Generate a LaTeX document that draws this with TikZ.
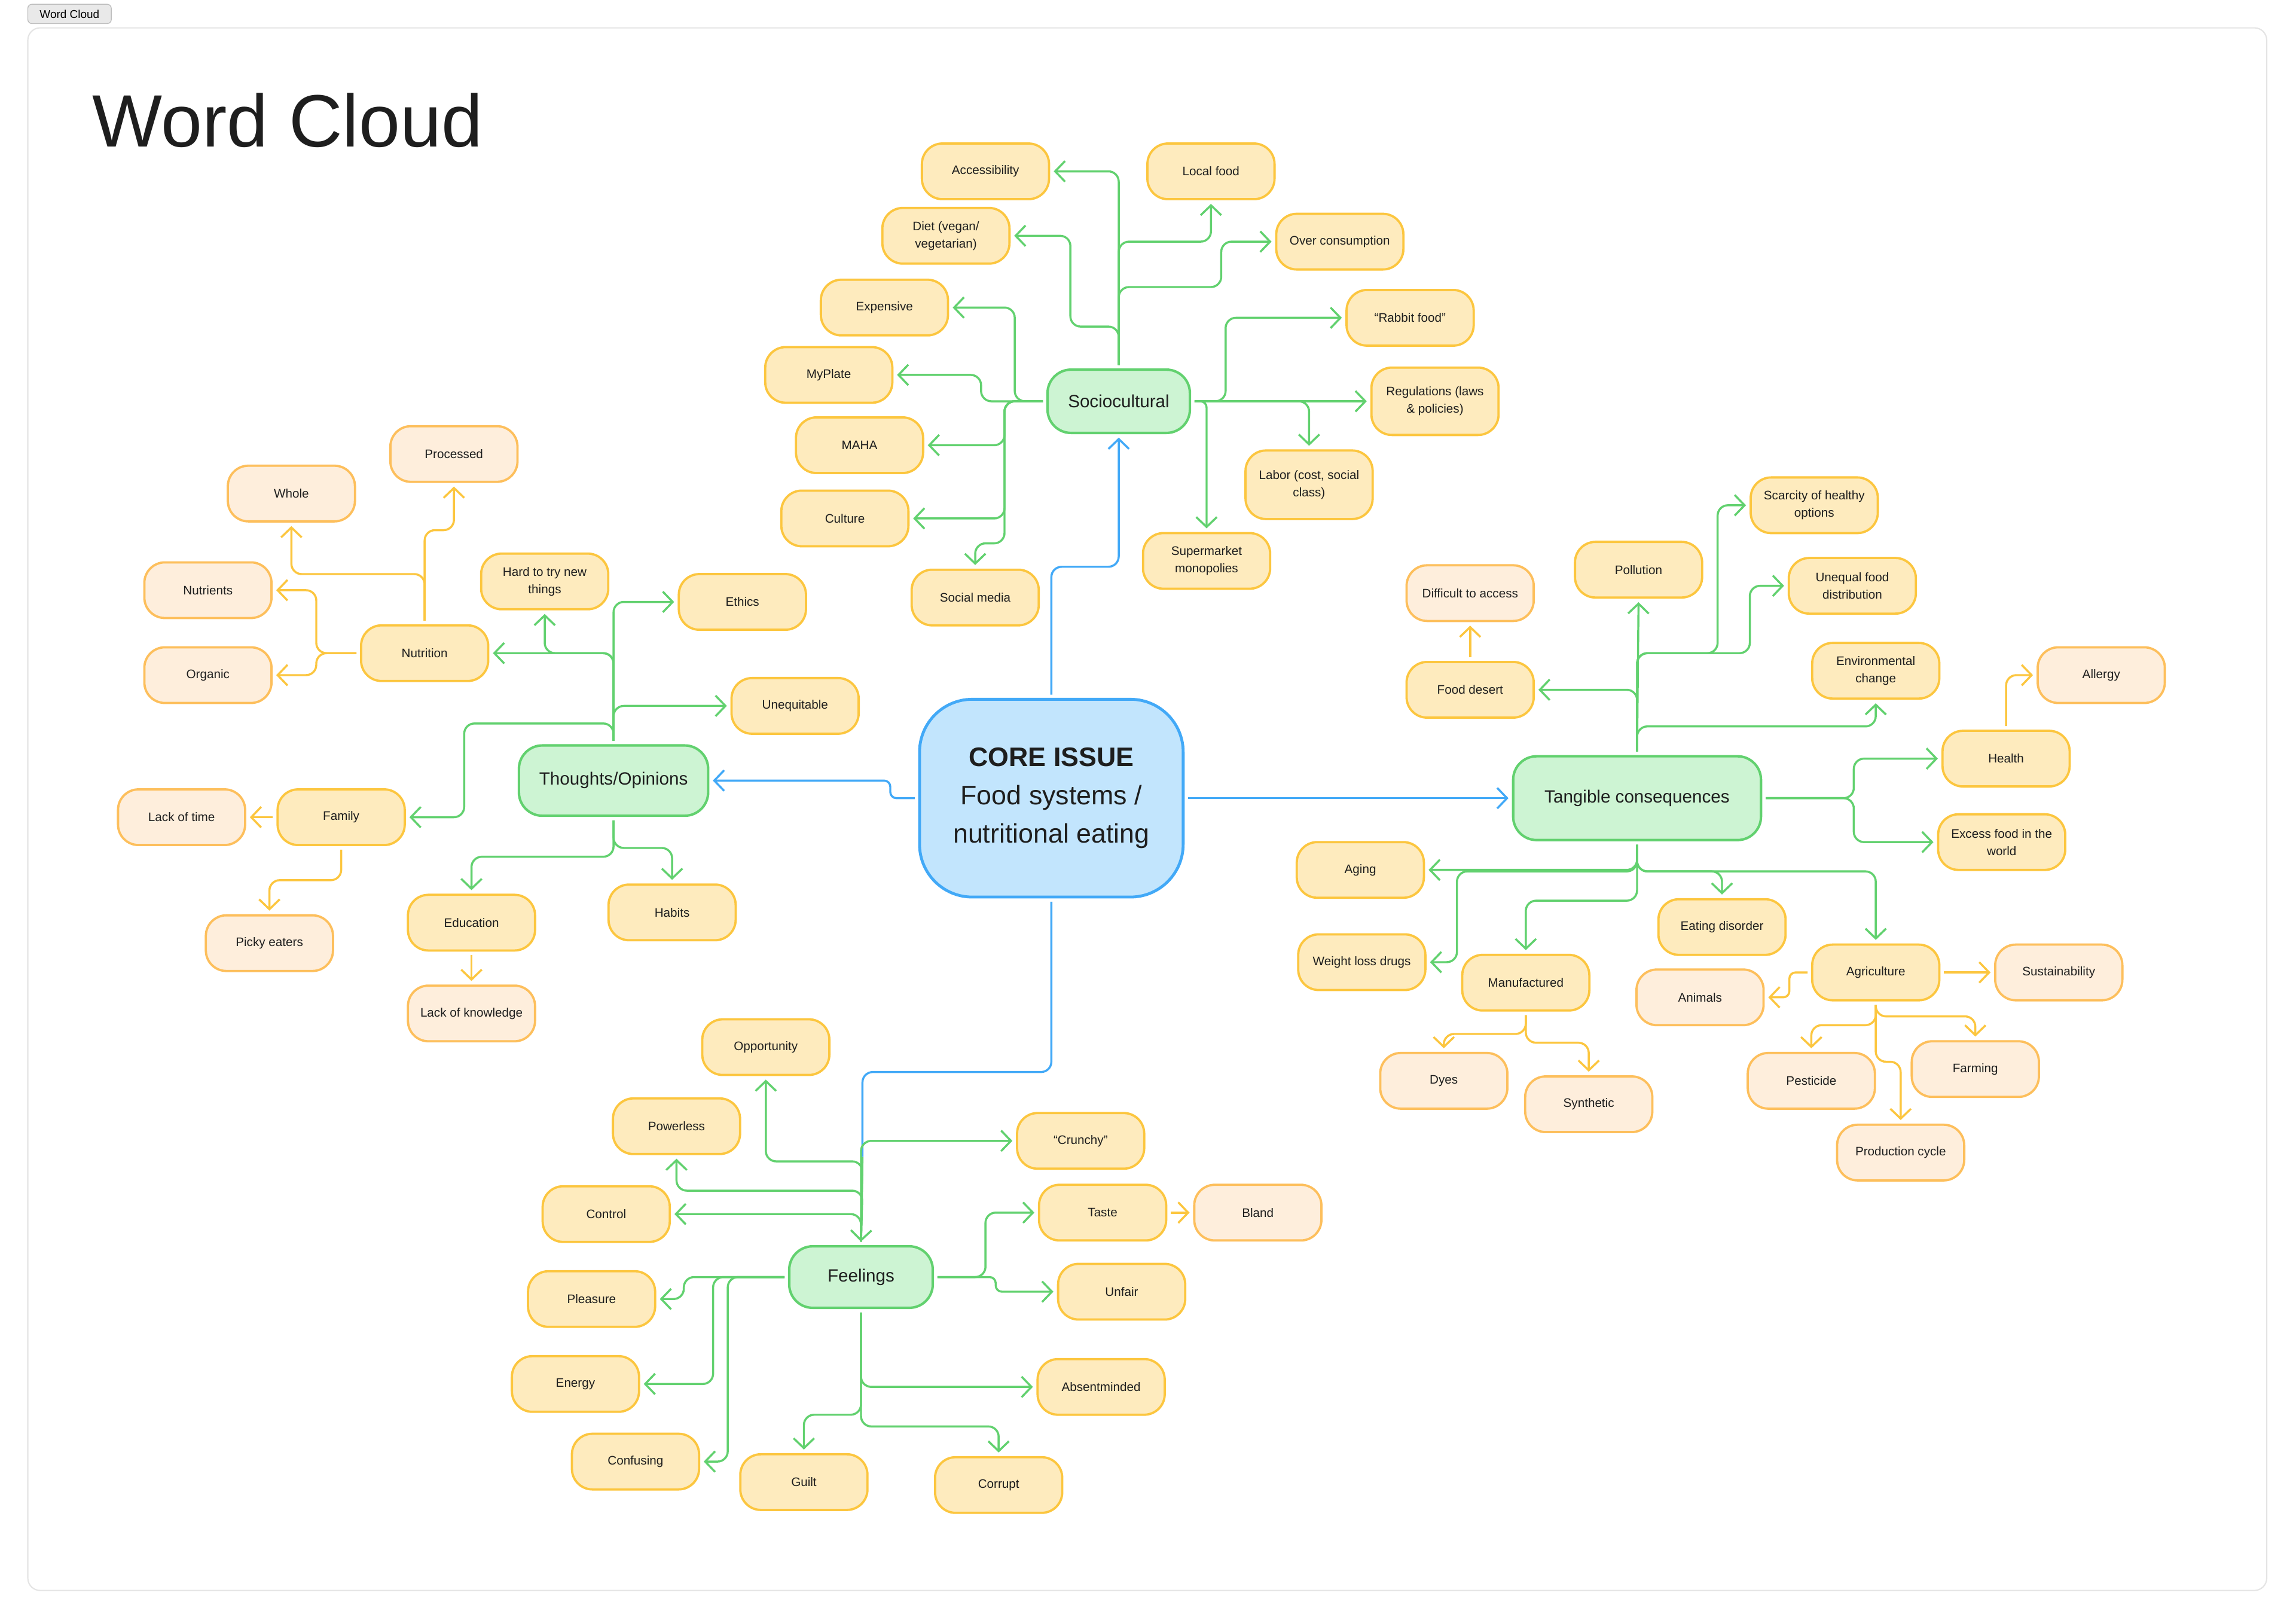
\documentclass[tikz,border=0pt]{standalone}
\usepackage{fontspec}
\setmainfont{Liberation Sans}
\usetikzlibrary{arrows.meta}

\begin{document}
\begin{tikzpicture}[x=0.025cm, y=-0.025cm,
	cloudbox/.style={rounded corners=0.35cm, line width=1.1pt, align=center, text=ink, inner sep=1pt, outer sep=0.08cm, minimum width=2.17cm, minimum height=0.95cm, font=\fontsize{6}{8.4}\selectfont},
	leaf/.style={cloudbox, draw=leafline, fill=leaffill},
	twig/.style={cloudbox, draw=twigline, fill=twigfill},
	topic/.style={cloudbox, draw=topicline, fill=topicfill, rounded corners=0.4cm, line width=1.2pt, font=\fontsize{8.6}{10}\selectfont},
	core/.style={cloudbox, draw=coreline, fill=corefill, rounded corners=0.9cm, line width=1.4pt, minimum width=4.5cm, minimum height=3.375cm, font=\fontsize{13}{18.5}\selectfont},
	link/.style={line width=1pt, rounded corners=5pt, -{Straight Barb[length=4.8pt,width=10pt]}},
	glink/.style={link, draw=topicline},
	ylink/.style={link, draw=leafline},
	blink/.style={link, draw=coreline},
]
	% Define custom colors
	\definecolor{ink}{RGB}{30,30,30}
	\definecolor{leaffill}{RGB}{254,235,190}
	\definecolor{leafline}{RGB}{252,198,63}
	\definecolor{twigfill}{RGB}{254,238,220}
	\definecolor{twigline}{RGB}{253,191,92}
	\definecolor{topicfill}{RGB}{205,244,211}
	\definecolor{topicline}{RGB}{98,209,111}
	\definecolor{corefill}{RGB}{194,229,253}
	\definecolor{coreline}{RGB}{66,169,247}
	\definecolor{tabfill}{RGB}{233,233,233}
	\definecolor{tabline}{RGB}{190,190,190}
	\definecolor{framegray}{RGB}{228,228,228}
	\useasboundingbox (0,0) rectangle (1568,1106);
	\fill[white] (0,0) rectangle (1568,1106);
	\draw[framegray, line width=0.6pt, rounded corners=6pt] (19,19) rectangle (1548,1086);
	\node[fill=tabfill, draw=tabline, rounded corners=2pt, line width=0.4pt, minimum width=1.425cm, minimum height=0.33cm, inner sep=0pt, font=\fontsize{5.5}{6}\selectfont] (tab) at (47.5,9.5) {Word Cloud};
	\node[anchor=west, inner sep=0pt, text=ink, font=\fontsize{36}{36}\selectfont] (title) at (63,82) {Word Cloud};

	% core and topics
	\node[core] (core) at (718,545) {\textbf{CORE ISSUE}\\Food systems /\\nutritional eating};
	\node[topic, minimum width=2.43cm, minimum height=1.08cm] (soc) at (764,274) {Sociocultural};
	\node[topic, minimum width=3.23cm, minimum height=1.2cm] (thou) at (419,533) {Thoughts/Opinions};
	\node[topic, minimum width=4.23cm, minimum height=1.43cm] (tang) at (1118,545) {Tangible consequences};
	\node[topic, minimum width=2.45cm, minimum height=1.05cm] (feel) at (588,872) {Feelings};

	% sociocultural
	\node[leaf] (access) at (673,117) {Accessibility};
	\node[leaf] (local) at (827,117) {Local food};
	\node[leaf] (diet) at (646,161) {Diet (vegan/\\vegetarian)};
	\node[leaf] (over) at (915,165) {Over consumption};
	\node[leaf] (expens) at (604,210) {Expensive};
	\node[leaf] (rabbit) at (963,217) {“Rabbit food”};
	\node[leaf] (myplate) at (566,256) {MyPlate};
	\node[leaf, minimum height=1.15cm] (regs) at (980,274) {Regulations (laws\\\& policies)};
	\node[leaf] (maha) at (587,304) {MAHA};
	\node[leaf, minimum height=1.17cm] (labor) at (894,331) {Labor (cost, social\\class)};
	\node[leaf] (culture) at (577,354) {Culture};
	\node[leaf] (superm) at (824,383) {Supermarket\\monopolies};
	\node[leaf] (social) at (666,408) {Social media};

	% thoughts
	\node[twig] (proc) at (310,310) {Processed};
	\node[twig] (whole) at (199,337) {Whole};
	\node[twig] (nutrients) at (142,403) {Nutrients};
	\node[twig] (organic) at (142,461) {Organic};
	\node[leaf] (nutri) at (290,446) {Nutrition};
	\node[leaf] (hard) at (372,397) {Hard to try new\\things};
	\node[leaf] (ethics) at (507,411) {Ethics};
	\node[leaf] (unequit) at (543,482) {Unequitable};
	\node[leaf] (family) at (233,558) {Family};
	\node[twig] (lacktime) at (124,558) {Lack of time};
	\node[twig] (picky) at (184,644) {Picky eaters};
	\node[leaf] (edu) at (322,630) {Education};
	\node[leaf] (habits) at (459,623) {Habits};
	\node[twig] (lackknow) at (322,692) {Lack of knowledge};

	% feelings
	\node[leaf] (opp) at (523,715) {Opportunity};
	\node[leaf] (power) at (462,769) {Powerless};
	\node[leaf] (crunchy) at (738,779) {“Crunchy”};
	\node[leaf] (control) at (414,829) {Control};
	\node[leaf] (taste) at (753,828) {Taste};
	\node[twig] (bland) at (859,828) {Bland};
	\node[leaf] (pleasure) at (404,887) {Pleasure};
	\node[leaf] (unfair) at (766,882) {Unfair};
	\node[leaf] (energy) at (393,945) {Energy};
	\node[leaf] (absent) at (752,947) {Absentminded};
	\node[leaf] (conf) at (434,998) {Confusing};
	\node[leaf] (guilt) at (549,1012) {Guilt};
	\node[leaf] (corrupt) at (682,1014) {Corrupt};

	% tangible consequences
	\node[leaf] (scarcity) at (1239,345) {Scarcity of healthy\\options};
	\node[twig] (difficult) at (1004,405) {Difficult to access};
	\node[leaf] (poll) at (1119,389) {Pollution};
	\node[leaf] (unequal) at (1265,400) {Unequal food\\distribution};
	\node[leaf] (desert) at (1004,471) {Food desert};
	\node[leaf] (env) at (1281,458) {Environmental\\change};
	\node[twig] (allergy) at (1435,461) {Allergy};
	\node[leaf] (health) at (1370,518) {Health};
	\node[leaf] (excess) at (1367,575) {Excess food in the\\world};
	\node[leaf] (aging) at (929,594) {Aging};
	\node[leaf] (eat) at (1176,633) {Eating disorder};
	\node[leaf] (weight) at (930,657) {Weight loss drugs};
	\node[leaf] (agri) at (1281,664) {Agriculture};
	\node[twig] (sustain) at (1406,664) {Sustainability};
	\node[leaf] (manu) at (1042,671) {Manufactured};
	\node[twig] (animals) at (1161,681) {Animals};
	\node[twig] (dyes) at (986,738) {Dyes};
	\node[twig] (synth) at (1085,754) {Synthetic};
	\node[twig] (pest) at (1237,738) {Pesticide};
	\node[twig] (farm) at (1349,730) {Farming};
	\node[twig] (prod) at (1298,787) {Production cycle};

	% blue links from the core
	\coordinate (fjoin) at (589,790);
	\draw[blink] (core.north) -- (718,387) -| (soc.south);
	\draw[blink] (core.east) -- (tang.west);
	\draw[blink, rounded corners=3pt] (core.west) -- (608,545) -- (608,533) -- (thou.east);
	\draw[blink, -] (core.south) -- (718,732) -| (fjoin);

	% sociocultural links
	\draw[glink] (soc.north) |- (access.east);
	\draw[glink] (soc.north) -- (764,165) -| (local.south);
	\draw[glink] (soc.north) -- (764,196) -| (834,165) -- (over.west);
	\draw[glink] (soc.north) -- (764,223) -| (731,161) -- (diet.east);
	\draw[glink] (soc.west) -| (693,210) -- (expens.east);
	\draw[glink] (soc.west) -| (670,256) -- (myplate.east);
	\draw[glink] (soc.west) -| (686,304) -- (maha.east);
	\draw[glink] (soc.west) -| (686,354) -- (culture.east);
	\draw[glink] (soc.west) -| (686,371) -| (social.north);
	\draw[glink] (soc.east) -- (regs.west);
	\draw[glink] (soc.east) -| (837,217) -- (rabbit.west);
	\draw[glink] (soc.east) -| (labor.north);
	\draw[glink, rounded corners=3pt] (soc.east) -| (superm.north);

	% thoughts links
	\draw[glink] (thou.north) |- (ethics.west);
	\draw[glink] (thou.north) |- (unequit.west);
	\draw[glink] (thou.north) |- (nutri.east);
	\draw[glink] (thou.north) |- (390,446) -| (hard.south);
	\draw[glink] (thou.north) |- (317,494) |- (family.east);
	\draw[glink] (thou.south) -- (419,585) -| (edu.north);
	\draw[glink] (thou.south) -- (419,579) -| (habits.north);
	\draw[ylink] (nutri.north) -- (290,362) -| (proc.south);
	\draw[ylink] (nutri.north) -- (290,392) -| (whole.south);
	\draw[ylink] (nutri.west) -- (216,446) |- (nutrients.east);
	\draw[ylink] (nutri.west) -- (216,446) |- (organic.east);
	\draw[ylink] (family.west) -- (lacktime.east);
	\draw[ylink] (family.south) -- (233,601) -| (picky.north);
	\draw[ylink] (edu.south) -- (lackknow.north);

	% feelings links
	\draw[glink] (fjoin) -- (feel.north);
	\draw[glink] (feel.north) |- (crunchy.west);
	\draw[glink] (feel.north) -- (589,793) -| (opp.south);
	\draw[glink] (feel.north) -- (589,813) -| (power.south);
	\draw[glink] (feel.north) |- (control.east);
	\draw[glink] (feel.west) -| (467,887) -- (pleasure.east);
	\draw[glink] (feel.west) -| (487,945) -- (energy.east);
	\draw[glink] (feel.west) -| (497,998) -- (conf.east);
	\draw[glink] (feel.east) -| (673,828) -- (taste.west);
	\draw[glink, rounded corners=3pt] (feel.east) -| (680,882) -- (unfair.west);
	\draw[glink] (feel.south) |- (absent.west);
	\draw[glink] (feel.south) -- (588,966) -| (guilt.north);
	\draw[glink] (feel.south) -- (588,974) -| (corrupt.north);
	\draw[ylink] (taste.east) -- (bland.west);

	% tangible consequences links
	\draw[glink] (tang.north) -- (poll.south);
	\draw[glink] (tang.north) -- (1118,496) -| (env.south);
	\draw[glink] (tang.north) |- (desert.east);
	\draw[glink] (tang.north) -- (1118,446) -| (1195,400) -- (unequal.west);
	\draw[glink] (tang.north) -- (1118,446) -| (1173,345) -- (scarcity.west);
	\draw[glink] (tang.east) -| (1266,518) -- (health.west);
	\draw[glink] (tang.east) -| (1266,575) -- (excess.west);
	\draw[glink] (tang.south) |- (aging.east);
	\draw[glink] (tang.south) -- (1118,595) -| (995,657) -- (weight.east);
	\draw[glink] (tang.south) -- (1118,595) -| (eat.north);
	\draw[glink] (tang.south) -- (1118,595) -| (agri.north);
	\draw[glink] (tang.south) -- (1118,615) -| (manu.north);
	\draw[ylink] (desert.north) -- (difficult.south);
	\draw[ylink] (health.north) |- (allergy.west);
	\draw[ylink] (agri.east) -- (sustain.west);
	\draw[ylink, rounded corners=3pt] (agri.west) -| (1222,681) -- (animals.east);
	\draw[ylink] (agri.south) -- (1281,700) -| (pest.north);
	\draw[ylink] (agri.south) -- (1281,694) -| (farm.north);
	\draw[ylink] (agri.south) -- (1281,725) -| (prod.north);
	\draw[ylink] (manu.south) -- (1042,706) -| (dyes.north);
	\draw[ylink] (manu.south) -- (1042,712) -| (synth.north);
\end{tikzpicture}
\end{document}
